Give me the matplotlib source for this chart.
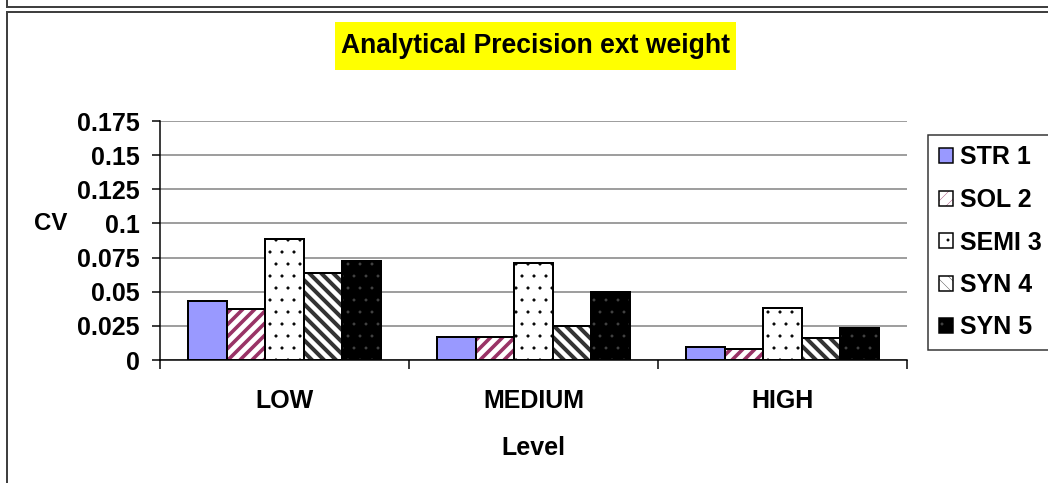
import matplotlib
matplotlib.use("Agg")
import matplotlib.pyplot as plt
from matplotlib.patches import Rectangle, Patch
from matplotlib.lines import Line2D
import numpy as np

# CV by level for each method
levels = ["LOW", "MEDIUM", "HIGH"]
series_names = ["STR 1", "SOL 2", "SEMI 3", "SYN 4", "SYN 5"]
str1 = [0.0434, 0.0170, 0.0097]
sol2 = [0.0373, 0.0170, 0.0083]
semi3 = [0.0884, 0.0711, 0.0378]
syn4 = [0.0638, 0.0246, 0.0159]
syn5 = [0.0726, 0.0495, 0.0234]
yticks = [0, 0.025, 0.05, 0.075, 0.1, 0.125, 0.15, 0.175]
ytick_labels = ["0", "0.025", "0.05", "0.075", "0.1", "0.125", "0.15", "0.175"]

# face colour, hatch, hatch colour, hatch line width per series
styles = [
    ("#9999ff", "", "black", 1.0),
    ("white", "//", "#993366", 3.6),
    ("white", ".", "black", 0.6),
    ("white", "\\\\", "#333333", 4.0),
    ("black", ".", "#444444", 0.4),
]

W, H, DPI = 1048, 483, 72
plt.rcParams["font.family"] = ["Liberation Sans", "DejaVu Sans"]
plt.rcParams["font.weight"] = "bold"

fig = plt.figure(figsize=(W / DPI, H / DPI), dpi=DPI)


def fx(px):
    return px / W


def fy(py):
    return 1 - py / H


def set_hlw(patch, lw):
    # per-patch hatch width where supported
    if hasattr(patch, "set_hatch_linewidth"):
        patch.set_hatch_linewidth(lw)


ax = fig.add_axes([fx(160), fy(360), fx(907) - fx(160), fy(121) - fy(360)])

x = np.arange(len(levels))
bw = 0.1545
handles = []
for i, (vals, (fc, hatch, hc, hlw)) in enumerate(zip([str1, sol2, semi3, syn4, syn5], styles)):
    plt.rcParams["hatch.linewidth"] = hlw
    pos = x + (i - 2) * bw
    # hatch layer, then a black outline on top
    bars = ax.bar(pos, vals, bw, color=fc, hatch=hatch, edgecolor=hc, linewidth=0, zorder=2)
    for b in bars:
        set_hlw(b, hlw)
    ax.bar(pos, vals, bw, fill=False, edgecolor="black", linewidth=2, zorder=3)
    hp = Patch(facecolor=fc, hatch=hatch, edgecolor=hc, linewidth=0)
    set_hlw(hp, hlw)
    handles.append((hp, Patch(fill=False, edgecolor="black", linewidth=1.5)))

ax.set_xlim(-0.5, 2.5)
ax.set_ylim(0, 0.175)
ax.set_yticks(yticks)
ax.set_yticklabels(ytick_labels)
ax.yaxis.grid(True, color="#808080", linewidth=1.5, zorder=0)
ax.set_axisbelow(True)
for s in ["top", "right"]:
    ax.spines[s].set_visible(False)
ax.spines["left"].set_linewidth(1.5)
ax.spines["bottom"].set_linewidth(1.5)
ax.tick_params(axis="y", direction="out", length=8, width=1.5, pad=12, labelsize=25)

ax.set_xticks(x)
ax.set_xticklabels(levels)
ax.set_xticks([-0.5, 0.5, 1.5, 2.5], minor=True)
ax.tick_params(axis="x", which="major", length=0, pad=29, labelsize=25)
ax.tick_params(axis="x", which="minor", direction="out", length=9, width=1.5)

ax.set_xlabel("Level", fontsize=25, fontweight="bold")
ax.xaxis.set_label_coords(0.5, (360 - 448) / 239)
ax.xaxis.label.set_va("center")
ax.set_ylabel("CV", fontsize=24, fontweight="bold", rotation=0)
ax.yaxis.set_label_coords((50.5 - 160) / 747, (360 - 223) / 239)
ax.yaxis.label.set_va("center")
ax.yaxis.label.set_ha("center")

# title on a yellow band
fig.add_artist(Rectangle((fx(335), fy(70)), fx(736) - fx(335), fy(22) - fy(70),
                         transform=fig.transFigure, facecolor="yellow", edgecolor="none"))
fig.text(fx(535.5), fy(46), "Analytical Precision ext weight", fontsize=26.5,
         fontweight="bold", ha="center", va="center")

leg = fig.legend(handles, series_names, loc="upper left",
                 bbox_to_anchor=(fx(928), fy(135)), bbox_transform=fig.transFigure,
                 borderaxespad=0, fontsize=25, frameon=True, fancybox=False,
                 handlelength=0.56, handleheight=0.56, handletextpad=0.3,
                 labelspacing=0.74, borderpad=0.42)
leg.get_frame().set_edgecolor("black")
leg.get_frame().set_linewidth(1.5)

# outer chart frames
frame = "#404040"
fig.add_artist(Line2D([fx(7), fx(7)], [fy(-5), fy(7)], transform=fig.transFigure, color=frame, lw=2))
fig.add_artist(Line2D([fx(7), fx(1060)], [fy(7), fy(7)], transform=fig.transFigure, color=frame, lw=2))
fig.add_artist(Line2D([fx(7), fx(7)], [fy(12), fy(495)], transform=fig.transFigure, color=frame, lw=2))
fig.add_artist(Line2D([fx(7), fx(1060)], [fy(12), fy(12)], transform=fig.transFigure, color=frame, lw=2))

fig.savefig("out.png", dpi=DPI)
